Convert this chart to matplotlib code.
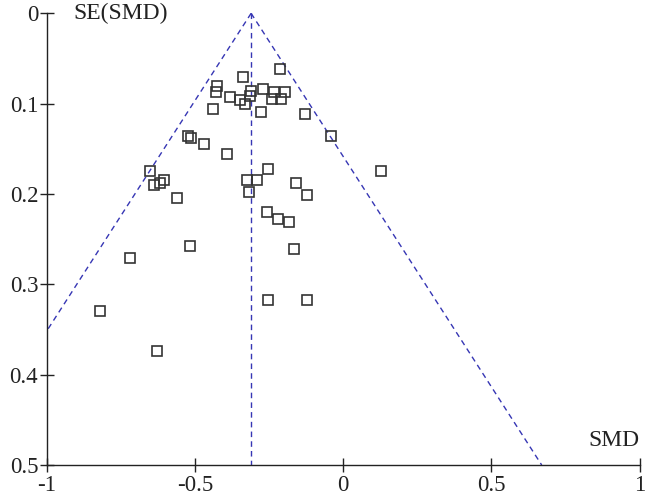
import matplotlib
matplotlib.use("Agg")
import matplotlib.pyplot as plt
import numpy as np

plt.rcParams['font.family'] = ['Liberation Serif', 'DejaVu Serif']

smd = [-0.212, -0.338, -0.426, -0.428, -0.381, -0.347, -0.330, -0.315, -0.312, -0.270,
       -0.232, -0.196, -0.239, -0.209, -0.440, -0.277, -0.128, -0.039, -0.523, -0.514,
       -0.468, -0.391, -0.650, 0.128, -0.252, -0.636, -0.617, -0.603, -0.323, -0.291,
       -0.317, -0.159, -0.122, -0.559, -0.255, -0.218, -0.182, -0.516, -0.164, -0.718,
       -0.252, -0.122, -0.818, -0.628]
se = [0.0615, 0.0707, 0.080, 0.0873, 0.0925, 0.096, 0.1006, 0.092, 0.0855, 0.0836,
      0.0866, 0.0873, 0.095, 0.095, 0.106, 0.1087, 0.1116, 0.136, 0.136, 0.1385,
      0.1444, 0.156, 0.175, 0.174, 0.1724, 0.1897, 0.188, 0.185, 0.185, 0.184,
      0.198, 0.188, 0.2008, 0.204, 0.220, 0.228, 0.2307, 0.258, 0.261, 0.271,
      0.3176, 0.3176, 0.329, 0.374]
pooled = -0.31
xticks = [-1, -0.5, 0, 0.5, 1]
xtick_labels = ['-1', '-0.5', '0', '0.5', '1']
yticks = [0, 0.1, 0.2, 0.3, 0.4, 0.5]
ytick_labels = ['0', '0.1', '0.2', '0.3', '0.4', '0.5']

fig = plt.figure(figsize=(6.46, 5.03), dpi=100)
ax = fig.add_axes([0.072, 0.0755, 0.918, 0.898])

line_color = '#3636b4'
se_max = 0.5
ax.plot([pooled, pooled], [0, se_max], ls=(0, (4, 3)), color=line_color, lw=1.0)
ax.plot([pooled, pooled - 1.96 * se_max], [0, se_max], ls=(0, (4, 3)), color=line_color, lw=1.0)
ax.plot([pooled, pooled + 1.96 * se_max], [0, se_max], ls=(0, (4, 3)), color=line_color, lw=1.0)

ax.plot(smd, se, ls='none', marker='s', markersize=7.8, markerfacecolor='none',
        markeredgecolor='#333333', markeredgewidth=1.2)

ax.set_xlim(-1, 1)
ax.set_ylim(0.5, 0)
ax.spines['top'].set_visible(False)
ax.spines['right'].set_visible(False)
for s in ['left', 'bottom']:
    ax.spines[s].set_color('#222222')
    ax.spines[s].set_linewidth(1.0)
ax.set_xticks(xticks)
ax.set_xticklabels(xtick_labels)
ax.set_yticks(yticks)
ax.set_yticklabels(ytick_labels)
ax.tick_params(direction='inout', length=10, width=1.0, labelsize=16.5, colors='#222222', pad=2)
ax.tick_params(axis='y', pad=1)

ax.text(-0.91, 0.0, 'SE(SMD)', fontsize=17, ha='left', va='center', color='#222222')
ax.text(1.0, 0.485, 'SMD', fontsize=17, ha='right', va='bottom', color='#222222')

fig.savefig('out.png', dpi=100)
